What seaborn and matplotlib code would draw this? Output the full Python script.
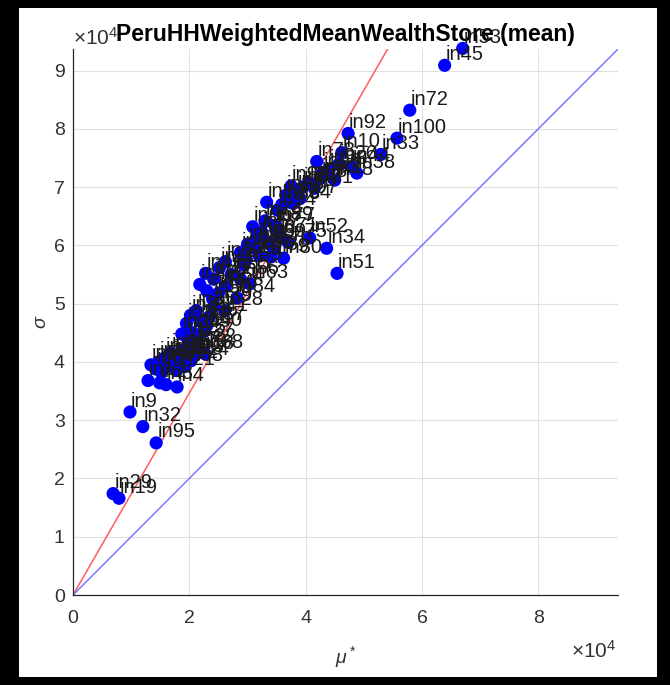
import numpy as np
import pandas as pd
import seaborn as sns
import matplotlib.pyplot as plt
from matplotlib.patches import Rectangle
from matplotlib.ticker import FuncFormatter

# values, in units of 1e4
names = ['in53', 'in45', 'in72', 'in100', 'in92', 'in33', 'in10', 'in78', 'in26', 'in44',
         'in38', 'in48', 'in52', 'in34', 'in51', 'in9', 'in32', 'in95', 'in29', 'in19',
         'in80', 'in63', 'in84', 'in28', 'in99', 'in89', 'in64', 'in68', 'in58',
         # lower cluster
         'in1', 'in2', 'in3', 'in4', 'in5', 'in6', 'in7', 'in8', 'in11', 'in12',
         'in13', 'in14', 'in15', 'in16', 'in17', 'in18', 'in20', 'in21', 'in22', 'in23',
         # 4.3 - 5.0
         'in24', 'in25', 'in27', 'in30', 'in31', 'in35', 'in36', 'in37', 'in39', 'in40', 'in41',
         # 5.0 - 5.7
         'in42', 'in43', 'in46', 'in47', 'in49', 'in50', 'in54', 'in55', 'in56', 'in57', 'in59', 'in60',
         # 5.7 - 6.5
         'in61', 'in62', 'in65', 'in66', 'in67', 'in69', 'in70', 'in71', 'in73', 'in74',
         'in75', 'in76', 'in77', 'in79', 'in81',
         # 6.5 - 7.3
         'in82', 'in83', 'in85', 'in86', 'in87', 'in88', 'in90', 'in91', 'in93', 'in94',
         'in96', 'in97', 'in98']

mu = [6.70, 6.39, 5.79, 5.57, 4.73, 5.29, 4.62, 4.19, 4.57, 4.79,
      4.88, 4.50, 4.07, 4.36, 4.54, 0.98, 1.20, 1.43, 0.69, 0.79,
      3.62, 3.04, 2.82, 2.61, 2.06, 3.47, 3.78, 2.27, 1.92,
      1.29, 1.49, 1.60, 1.79, 1.34, 1.42, 1.52, 1.62, 1.72, 1.83,
      1.93, 2.03, 1.58, 1.68, 1.88, 2.10, 1.47, 1.78, 2.15, 1.98,
      1.87, 1.97, 2.10, 1.95, 2.02, 2.12, 2.18, 2.30, 2.42, 2.25, 2.35,
      2.18, 2.30, 2.28, 2.42, 2.52, 2.40, 2.62, 2.72, 2.88, 2.62, 2.94, 2.50,
      2.88, 3.00, 3.09, 3.15, 3.25, 3.35, 3.45, 3.55, 3.20, 3.30,
      3.70, 3.12, 3.50, 3.40, 2.98,
      3.33, 3.59, 3.66, 3.85, 3.95, 4.05, 3.75, 4.15, 4.25, 3.52,
      4.30, 3.90, 4.40]

sigma = [9.38, 9.09, 8.32, 7.84, 7.92, 7.56, 7.59, 7.44, 7.39, 7.35,
         7.24, 7.12, 6.13, 5.95, 5.52, 3.14, 2.89, 2.61, 1.74, 1.66,
         5.78, 5.34, 5.10, 4.88, 4.50, 6.34, 6.72, 4.14, 3.92,
         3.68, 3.64, 3.61, 3.57, 3.95, 3.88, 3.82, 3.93, 4.05, 3.98,
         4.08, 4.02, 4.07, 4.15, 4.20, 4.12, 4.00, 3.85, 4.25, 4.16,
         4.48, 4.40, 4.35, 4.66, 4.80, 4.88, 4.70, 4.62, 4.95, 4.52, 4.78,
         5.33, 5.22, 5.52, 5.42, 5.62, 5.08, 5.30, 5.50, 5.42, 5.72, 5.66, 5.18,
         5.88, 6.02, 6.32, 6.12, 6.22, 6.05, 5.92, 6.15, 5.82, 6.42,
         6.05, 5.95, 6.32, 5.80, 5.75,
         6.74, 6.70, 6.86, 6.92, 7.00, 7.08, 7.02, 6.98, 7.15, 6.60,
         7.25, 6.80, 7.30]

x_ticks = [0, 2, 4, 6, 8]
y_ticks = [0, 1, 2, 3, 4, 5, 6, 7, 8, 9]
lim = 9.37

df = pd.DataFrame({'name': names,
                   'mu': np.array(mu) * 1e4,
                   'sigma': np.array(sigma) * 1e4})

sns.set_style('white')
plt.rcParams['font.family'] = ['Liberation Sans', 'DejaVu Sans']
plt.rcParams['mathtext.fontset'] = 'custom'
plt.rcParams['mathtext.it'] = 'Liberation Sans:italic'
plt.rcParams['mathtext.rm'] = 'Liberation Sans'

fig = plt.figure(figsize=(6.7, 6.85), dpi=100, facecolor='black')
fig.patches.append(Rectangle((19 / 670, 8 / 685), 638 / 670, 669 / 685,
                             transform=fig.transFigure, facecolor='white',
                             edgecolor='none', zorder=-10))
ax = fig.add_axes([73 / 670, 90 / 685, 545 / 670, 546 / 685])

# reference lines through origin
ax.axline((0, 0), slope=np.sqrt(3), color='#ff5c5c', lw=1.1, zorder=2)
ax.axline((0, 0), slope=1, color='#7a7aff', lw=1.1, zorder=2)

sns.scatterplot(data=df, x='mu', y='sigma', color='#0000ff', s=90,
                edgecolor='none', ax=ax, zorder=3, clip_on=False, legend=False)

for n, xv, yv in zip(df['name'], df['mu'], df['sigma']):
    ax.annotate(n, (xv, yv), xytext=(1, 11), textcoords='offset pixels',
                ha='left', va='center', fontsize=14.5, color='#1a1a1a',
                zorder=4, annotation_clip=False)

ax.set_xlim(0, lim * 1e4)
ax.set_ylim(0, lim * 1e4)
ax.set_xticks([t * 1e4 for t in x_ticks])
ax.set_yticks([t * 1e4 for t in y_ticks])
fmt = FuncFormatter(lambda v, p: f'{v / 1e4:g}')
ax.xaxis.set_major_formatter(fmt)
ax.yaxis.set_major_formatter(fmt)

ax.grid(True, color='#e0e0e0', lw=0.8)
ax.set_axisbelow(True)
sns.despine(ax=ax)
for s in ['left', 'bottom']:
    ax.spines[s].set_color('#262626')
    ax.spines[s].set_linewidth(0.9)
ax.tick_params(direction='in', length=5, width=0.8, colors='#333333',
               labelsize=14)
ax.tick_params(axis='x', pad=11)
ax.tick_params(axis='y', pad=6)

ax.set_xlabel(r'$\mu^*$', fontsize=14, color='#333333', labelpad=12)
ax.set_ylabel(r'$\sigma$', fontsize=14, color='#333333', labelpad=3)
ax.set_title('PeruHHWeightedMeanWealthStore (mean)', fontsize=16.5,
             fontweight='bold', color='black', pad=6)

ax.text(0.0, 1.0, r'$\times$10$^4$', transform=ax.transAxes, ha='left',
        va='bottom', fontsize=15, color='#333333')
ax.text(0.997, -0.102, r'$\times$10$^4$', transform=ax.transAxes, ha='right',
        va='center', fontsize=15, color='#333333')

fig.savefig('out.png', dpi=100, facecolor=fig.get_facecolor())
